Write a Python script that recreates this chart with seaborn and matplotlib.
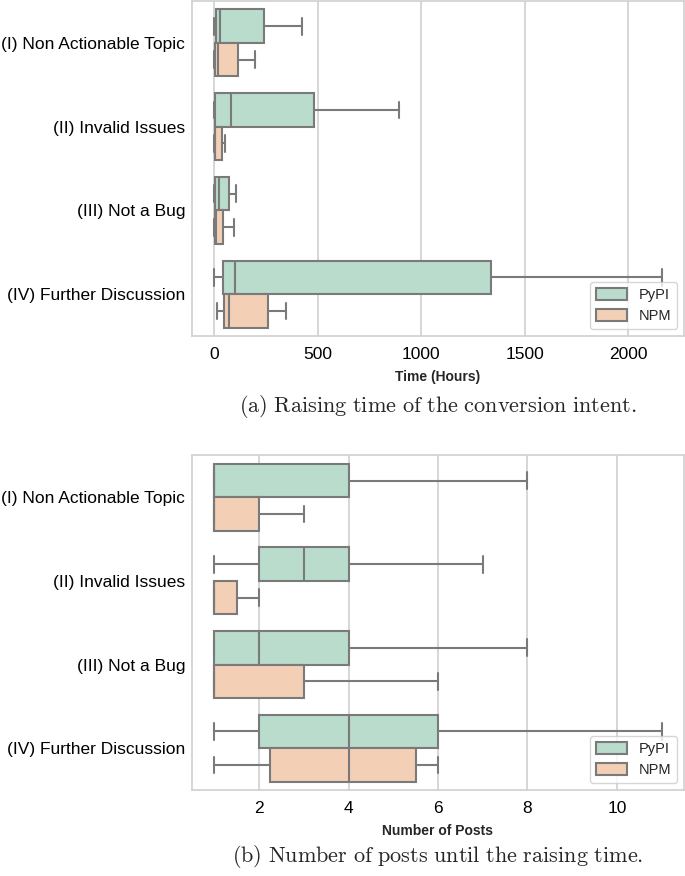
import numpy as np
import pandas as pd
import seaborn as sns
import matplotlib.pyplot as plt

categories = ["(I) Non Actionable Topic", "(II) Invalid Issues", "(III) Not a Bug", "(IV) Further Discussion"]
platforms = ["PyPI", "NPM"]

# five-number summaries: [low whisker, Q1, median, Q3, high whisker]
pypi_hours = [
    [0, 6, 26, 240, 423],
    [0, 5, 79, 484, 895],
    [0, 1, 23, 69, 106],
    [0, 44, 102, 1339, 2163],
]
npm_hours = [
    [0, 1, 18, 113, 198],
    [0, 1, 5, 35, 53],
    [0, 1, 8, 42, 97],
    [13, 47, 71, 261, 347],
]
pypi_posts = [
    [1, 1, 1, 4, 8],
    [1, 2, 3, 4, 7],
    [1, 1, 2, 4, 8],
    [1, 2, 4, 6, 11],
]
npm_posts = [
    [1, 1, 1, 2, 3],
    [1, 1, 1, 1.5, 2],
    [1, 1, 1, 3, 6],
    [1, 2.25, 4, 5.5, 6],
]

def long_frame(pypi, npm, name):
    rows = []
    for cat, p, n in zip(categories, pypi, npm):
        for v in p:
            rows.append({"Category": cat, "Platform": "PyPI", name: v})
        for v in n:
            rows.append({"Category": cat, "Platform": "NPM", name: v})
    return pd.DataFrame(rows)

df_hours = long_frame(pypi_hours, npm_hours, "Hours")
df_posts = long_frame(pypi_posts, npm_posts, "Posts")

sns.set_theme(style="whitegrid")
plt.rcParams["font.family"] = ["Liberation Sans", "DejaVu Sans"]
plt.rcParams["mathtext.fontset"] = "cm"

fig = plt.figure(figsize=(6.85, 8.76), dpi=100)
W, H = 685, 876
ax1 = fig.add_axes([192 / W, 1 - 336 / H, (684 - 192) / W, (336 - 1) / H])
ax2 = fig.add_axes([192 / W, 1 - 790 / H, (684 - 192) / W, (790 - 455.5) / H])

for ax, df, col, xlabel in [
    (ax1, df_hours, "Hours", "Time (Hours)"),
    (ax2, df_posts, "Posts", "Number of Posts"),
]:
    sns.boxplot(data=df, x=col, y="Category", hue="Platform", hue_order=platforms,
                order=categories, palette="Pastel2", linecolor="gray", linewidth=1.5,
                whis=1.5, showfliers=False, ax=ax)
    ax.set_ylabel("")
    ax.set_xlabel(xlabel, fontsize=10, fontweight="bold", labelpad=6)
    ax.tick_params(axis="both", labelsize=12.5, colors="black", length=0)
    ax.tick_params(axis="y", pad=5)
    ax.tick_params(axis="x", pad=8)
    for sp in ax.spines.values():
        sp.set_color("#d0d0d0")
        sp.set_linewidth(1.2)
    ax.grid(axis="x", color="#d0d0d0", linewidth=1.2)
    sns.move_legend(ax, "lower right", title=None, fontsize=10.5, frameon=True,
                    labelspacing=0.45, borderpad=0.4, handlelength=2.1,
                    handleheight=0.85, handletextpad=0.8, borderaxespad=0.5)

ax1.set_xticks([0, 500, 1000, 1500, 2000])
ax2.set_xticks([2, 4, 6, 8, 10])

fig.text(438 / W, 1 - 406 / H, r"$\mathrm{(a)\ Raising\ time\ of\ the\ conversion\ intent.}$",
         ha="center", va="center", fontsize=16)
fig.text(438 / W, 1 - 856 / H, r"$\mathrm{(b)\ Number\ of\ posts\ until\ the\ raising\ time.}$",
         ha="center", va="center", fontsize=16)

fig.savefig("out.png", dpi=100)
